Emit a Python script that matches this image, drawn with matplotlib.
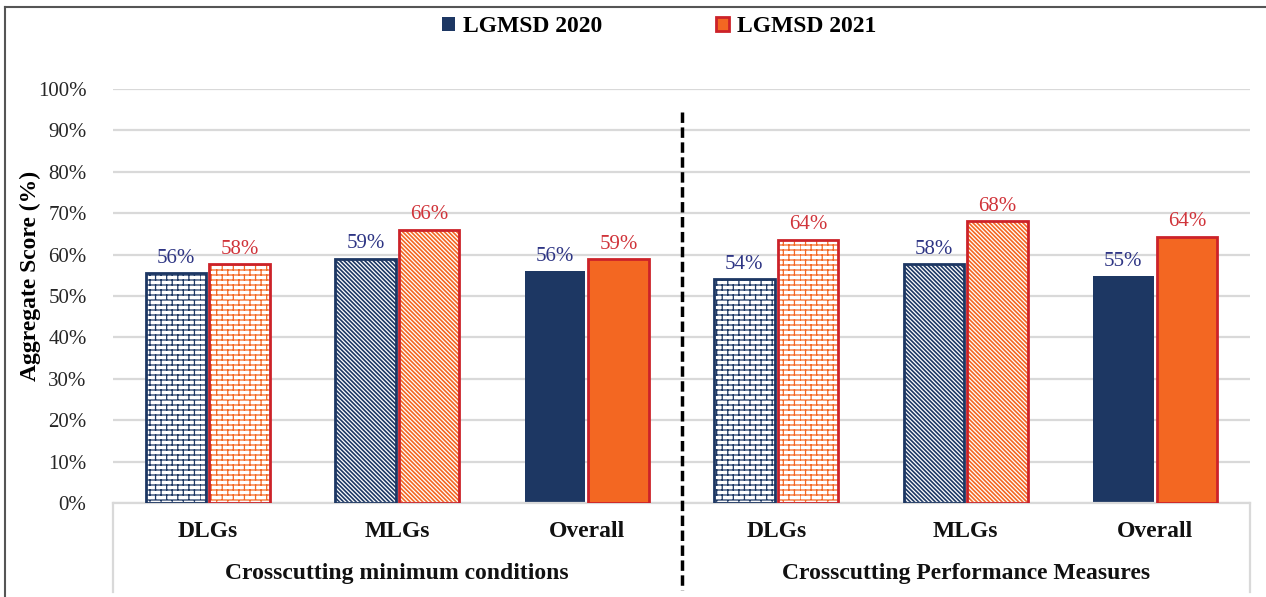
import numpy as np
import matplotlib
matplotlib.use("Agg")
import matplotlib.pyplot as plt
import matplotlib.hatch as mhatch
from matplotlib.path import Path
from matplotlib.patches import Patch
from matplotlib.lines import Line2D
import matplotlib.transforms as mtransforms

# ---------------- data ----------------
categories = ["DLGs", "MLGs", "Overall", "DLGs", "MLGs", "Overall"]
groups = ["Crosscutting minimum conditions", "Crosscutting Performance Measures"]
series_names = ["LGMSD 2020", "LGMSD 2021"]
values_2020 = [55.5, 59.0, 56.0, 54.0, 57.7, 54.8]
values_2021 = [57.7, 66.0, 58.9, 63.6, 68.1, 64.3]
yticks = [0, 10, 20, 30, 40, 50, 60, 70, 80, 90, 100]
ytick_labels = [f"{t}%" for t in yticks]


# ------------- custom brick hatch (uses '*') -------------
class BrickHatch:
    def __init__(self, hatch, density):
        self.rows = int(hatch.count('*') * 5)
        self.cols = max(self.rows // 2 - 1, 1)
        if self.rows:
            self.num_vertices = 2 * (self.rows + 1) + 2 * self.rows * self.cols
        else:
            self.num_vertices = 0

    def set_vertices_and_codes(self, vertices, codes):
        r, c = self.rows, self.cols
        v = []
        for i in range(r + 1):
            y = i / r
            v += [(0.0, y), (1.0, y)]
        for i in range(r):
            y0, y1 = i / r, (i + 1) / r
            shift = 0.5 if i % 2 else 0.0
            for j in range(c):
                xx = (j + shift) / c
                v += [(xx, y0), (xx, y1)]
        vertices[:] = np.array(v)
        codes[0::2] = Path.MOVETO
        codes[1::2] = Path.LINETO


mhatch._hatch_types = [t for t in mhatch._hatch_types if t is not mhatch.Stars] + [BrickHatch]

# ---------------- style ----------------
FONT = ["Liberation Serif", "DejaVu Serif"]
plt.rcParams["font.family"] = FONT
NAVY = "#1D3763"
ORANGE = "#F36722"
RED = "#CC2229"
LBL_NAVY = "#2E3584"
LBL_RED = "#D0343A"
GRID = "#D9D9D9"

hatches = ["****", "\\" * 8, ""]  # brick, diagonal, solid

fig = plt.figure(figsize=(12.66, 5.97), dpi=100)
ax = fig.add_axes([113 / 1266, 1 - 503 / 597, (1250 - 113) / 1266, (503 - 89) / 597])

x = np.arange(len(categories))
w = 0.32
off = 0.168

for i in range(len(categories)):
    h = hatches[i % 3]
    if h:
        plt.rcParams["hatch.linewidth"] = 0.9 if '*' in h else 1.2
        ax.bar(x[i] - off, values_2020[i], w, color="white", edgecolor=NAVY,
               hatch=h, linewidth=0, zorder=2)
        ax.bar(x[i] - off, values_2020[i], w, fill=False, edgecolor=NAVY,
               linewidth=2, zorder=3)
        ax.bar(x[i] + off, values_2021[i], w, color="white", edgecolor=ORANGE,
               hatch=h, linewidth=0, zorder=2)
        ax.bar(x[i] + off, values_2021[i], w, fill=False, edgecolor=RED,
               linewidth=2, zorder=3)
    else:
        ax.bar(x[i] - off, values_2020[i], w, color=NAVY, edgecolor=NAVY,
               linewidth=0, zorder=2)
        ax.bar(x[i] + off, values_2021[i], w, color=ORANGE, edgecolor=RED,
               linewidth=2, zorder=3)
    ax.annotate(f"{round(values_2020[i])}%", (x[i] - off, values_2020[i]),
                xytext=(0, 4), textcoords="offset points", ha="center", va="bottom",
                fontsize=15, color=LBL_NAVY)
    ax.annotate(f"{round(values_2021[i])}%", (x[i] + off, values_2021[i]),
                xytext=(0, 4), textcoords="offset points", ha="center", va="bottom",
                fontsize=15, color=LBL_RED)

ax.set_xlim(-0.5, len(categories) - 0.5)
ax.set_ylim(0, 100)
ax.set_yticks(yticks)
ax.set_yticklabels(ytick_labels, fontsize=15, color="#262626")
ax.tick_params(axis="y", length=0, pad=19)
ax.set_xticks([])
ax.grid(axis="y", color=GRID, linewidth=1.6, zorder=0)
ax.set_axisbelow(True)
for s in ["top", "right", "left"]:
    ax.spines[s].set_visible(False)
ax.spines["bottom"].set_color(GRID)
ax.spines["bottom"].set_linewidth(1.6)

ax.set_ylabel("Aggregate Score (%)", fontsize=17, fontweight="bold", va="center")
ax.yaxis.set_label_coords(-0.073, 0.548)

# category axis
trans = mtransforms.blended_transform_factory(ax.transData, ax.transAxes)
for i, c in enumerate(categories):
    ax.text(x[i], -0.068, c, transform=trans, ha="center", va="center",
            fontsize=17, fontweight="bold", color="#111111")
ax.text(1, -0.17, groups[0], transform=trans, ha="center", va="center",
        fontsize=17, fontweight="bold", color="#111111")
ax.text(4, -0.17, groups[1], transform=trans, ha="center", va="center",
        fontsize=17, fontweight="bold", color="#111111")
for xv in [-0.5, len(categories) - 0.5]:
    ax.add_line(Line2D([xv, xv], [0, -0.215], transform=trans, color=GRID,
                       linewidth=1.6, clip_on=False))
ax.add_line(Line2D([2.5, 2.5], [0.944, -0.21], transform=trans, color="black",
                   linewidth=2.5, linestyle=(0, (3, 1.3)), clip_on=False, zorder=5))

# legend
handles = [Patch(facecolor=NAVY, edgecolor=NAVY, linewidth=0),
           Patch(facecolor=ORANGE, edgecolor=RED, linewidth=2)]
fig.legend(handles, series_names, loc="center", bbox_to_anchor=(659 / 1266, 1 - 27 / 597),
           ncol=2, frameon=False, prop={"family": FONT, "weight": "bold", "size": 17},
           handlelength=0.55, handleheight=0.55, handletextpad=0.35, columnspacing=4.8)

# figure border
fig.add_artist(Line2D([5 / 1266, 5 / 1266], [0, 1 - 7 / 597], transform=fig.transFigure,
                      color="#555555", linewidth=1.5))
fig.add_artist(Line2D([5 / 1266, 1], [1 - 7 / 597, 1 - 7 / 597], transform=fig.transFigure,
                      color="#555555", linewidth=1.5))

fig.savefig("out.png", dpi=100)
